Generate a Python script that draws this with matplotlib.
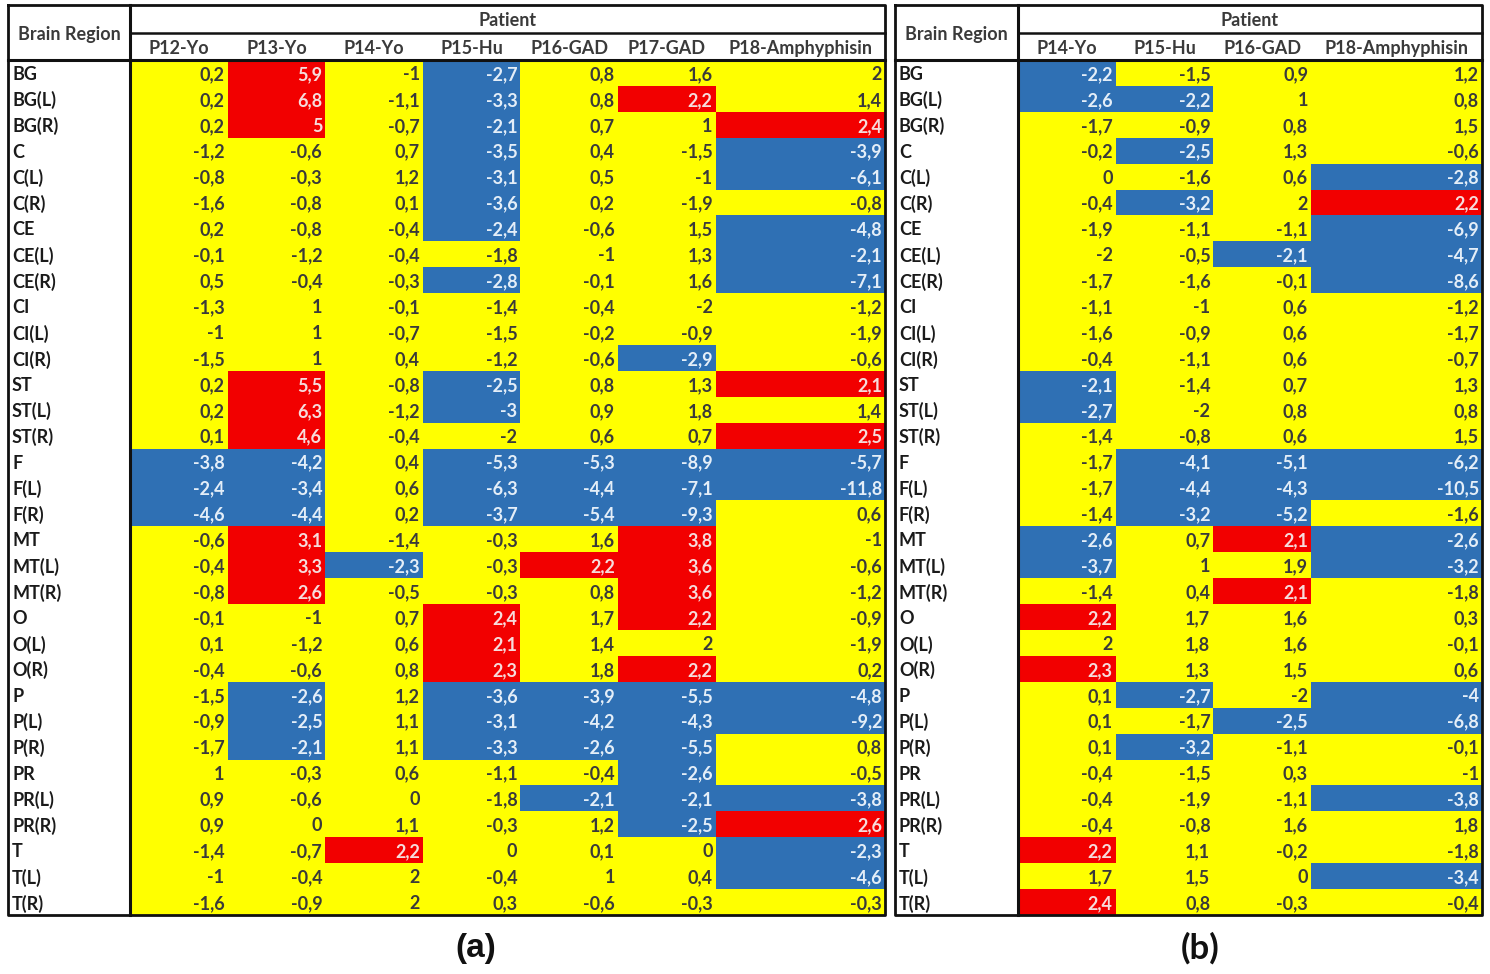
import matplotlib
matplotlib.use("Agg")
import matplotlib.pyplot as plt
from matplotlib.patches import Rectangle

# ---- data -------------------------------------------------------------
regions = ["BG", "BG(L)", "BG(R)", "C", "C(L)", "C(R)", "CE", "CE(L)", "CE(R)",
           "CI", "CI(L)", "CI(R)", "ST", "ST(L)", "ST(R)", "F", "F(L)", "F(R)",
           "MT", "MT(L)", "MT(R)", "O", "O(L)", "O(R)", "P", "P(L)", "P(R)",
           "PR", "PR(L)", "PR(R)", "T", "T(L)", "T(R)"]

patients_a = ["P12-Yo", "P13-Yo", "P14-Yo", "P15-Hu", "P16-GAD", "P17-GAD",
              "P18-Amphyphisin"]
patients_b = ["P14-Yo", "P15-Hu", "P16-GAD", "P18-Amphyphisin"]

# panel (a)
a_p12_yo = [0.2, 0.2, 0.2, -1.2, -0.8, -1.6, 0.2, -0.1, 0.5, -1.3, -1, -1.5,
            0.2, 0.2, 0.1, -3.8, -2.4, -4.6, -0.6, -0.4, -0.8, -0.1, 0.1, -0.4,
            -1.5, -0.9, -1.7, 1, 0.9, 0.9, -1.4, -1, -1.6]
a_p13_yo = [5.9, 6.8, 5, -0.6, -0.3, -0.8, -0.8, -1.2, -0.4, 1, 1, 1,
            5.5, 6.3, 4.6, -4.2, -3.4, -4.4, 3.1, 3.3, 2.6, -1, -1.2, -0.6,
            -2.6, -2.5, -2.1, -0.3, -0.6, 0, -0.7, -0.4, -0.9]
a_p14_yo = [-1, -1.1, -0.7, 0.7, 1.2, 0.1, -0.4, -0.4, -0.3, -0.1, -0.7, 0.4,
            -0.8, -1.2, -0.4, 0.4, 0.6, 0.2, -1.4, -2.3, -0.5, 0.7, 0.6, 0.8,
            1.2, 1.1, 1.1, 0.6, 0, 1.1, 2.2, 2, 2]
a_p15_hu = [-2.7, -3.3, -2.1, -3.5, -3.1, -3.6, -2.4, -1.8, -2.8, -1.4, -1.5, -1.2,
            -2.5, -3, -2, -5.3, -6.3, -3.7, -0.3, -0.3, -0.3, 2.4, 2.1, 2.3,
            -3.6, -3.1, -3.3, -1.1, -1.8, -0.3, 0, -0.4, 0.3]
a_p16_gad = [0.8, 0.8, 0.7, 0.4, 0.5, 0.2, -0.6, -1, -0.1, -0.4, -0.2, -0.6,
             0.8, 0.9, 0.6, -5.3, -4.4, -5.4, 1.6, 2.2, 0.8, 1.7, 1.4, 1.8,
             -3.9, -4.2, -2.6, -0.4, -2.1, 1.2, 0.1, 1, -0.6]
a_p17_gad = [1.6, 2.2, 1, -1.5, -1, -1.9, 1.5, 1.3, 1.6, -2, -0.9, -2.9,
             1.3, 1.8, 0.7, -8.9, -7.1, -9.3, 3.8, 3.6, 3.6, 2.2, 2, 2.2,
             -5.5, -4.3, -5.5, -2.6, -2.1, -2.5, 0, 0.4, -0.3]
a_p18_amph = [2, 1.4, 2.4, -3.9, -6.1, -0.8, -4.8, -2.1, -7.1, -1.2, -1.9, -0.6,
              2.1, 1.4, 2.5, -5.7, -11.8, 0.6, -1, -0.6, -1.2, -0.9, -1.9, 0.2,
              -4.8, -9.2, 0.8, -0.5, -3.8, 2.6, -2.3, -4.6, -0.3]

# panel (b)
b_p14_yo = [-2.2, -2.6, -1.7, -0.2, 0, -0.4, -1.9, -2, -1.7, -1.1, -1.6, -0.4,
            -2.1, -2.7, -1.4, -1.7, -1.7, -1.4, -2.6, -3.7, -1.4, 2.2, 2, 2.3,
            0.1, 0.1, 0.1, -0.4, -0.4, -0.4, 2.2, 1.7, 2.4]
b_p15_hu = [-1.5, -2.2, -0.9, -2.5, -1.6, -3.2, -1.1, -0.5, -1.6, -1, -0.9, -1.1,
            -1.4, -2, -0.8, -4.1, -4.4, -3.2, 0.7, 1, 0.4, 1.7, 1.8, 1.3,
            -2.7, -1.7, -3.2, -1.5, -1.9, -0.8, 1.1, 1.5, 0.8]
b_p16_gad = [0.9, 1, 0.8, 1.3, 0.6, 2, -1.1, -2.1, -0.1, 0.6, 0.6, 0.6,
             0.7, 0.8, 0.6, -5.1, -4.3, -5.2, 2.1, 1.9, 2.1, 1.6, 1.6, 1.5,
             -2, -2.5, -1.1, 0.3, -1.1, 1.6, -0.2, 0, -0.3]
b_p18_amph = [1.2, 0.8, 1.5, -0.6, -2.8, 2.2, -6.9, -4.7, -8.6, -1.2, -1.7, -0.7,
              1.3, 0.8, 1.5, -6.2, -10.5, -1.6, -2.6, -3.2, -1.8, 0.3, -0.1, 0.6,
              -4, -6.8, -0.1, -1, -3.8, 1.8, -1.8, -3.4, -0.4]

columns_a = [a_p12_yo, a_p13_yo, a_p14_yo, a_p15_hu, a_p16_gad, a_p17_gad, a_p18_amph]
columns_b = [b_p14_yo, b_p15_hu, b_p16_gad, b_p18_amph]

THRESHOLD = 2.0

# ---- style ------------------------------------------------------------
YELLOW = "#FFFF00"
RED = "#F20000"
BLUE = "#2F70B4"
DARK = "#3A3A3A"
LIGHT_ON_RED = "#F6DCDC"
LIGHT_ON_BLUE = "#E4EEF8"
FONT = "Lato"
FS = 13

W, H = 1490, 974
fig = plt.figure(figsize=(W / 100, H / 100), dpi=100)
ax = fig.add_axes([0, 0, 1, 1])
ax.set_xlim(0, W)
ax.set_ylim(H, 0)
ax.axis("off")

TOP, MID, HEAD, BOTTOM = 5, 33, 60, 915
ROW_H = (BOTTOM - HEAD) / len(regions)


def fmt(v):
    s = ("%.1f" % v).rstrip("0").rstrip(".")
    if s == "-0":
        s = "0"
    return s.replace(".", ",")


def draw_panel(x0, xlab, col_w, xright, names, cols):
    n = len(cols)
    edges = [xlab + i * col_w for i in range(n)] + [xright]
    # cells
    for j, vals in enumerate(cols):
        for i, v in enumerate(vals):
            y = HEAD + i * ROW_H
            if v > THRESHOLD:
                fc, tc = RED, LIGHT_ON_RED
            elif v < -THRESHOLD:
                fc, tc = BLUE, LIGHT_ON_BLUE
            else:
                fc, tc = YELLOW, DARK
            ax.add_patch(Rectangle((edges[j], y), edges[j + 1] - edges[j], ROW_H,
                                   facecolor=fc, edgecolor="none", zorder=1))
            ax.text(edges[j + 1] - 3, y + ROW_H / 2 + 1.5, fmt(v), ha="right",
                    va="center", fontsize=FS, fontweight="bold", color=tc,
                    family=FONT, zorder=3)
    # row labels
    for i, r in enumerate(regions):
        ax.text(x0 + 4, HEAD + (i + 0.5) * ROW_H + 1.5, r, ha="left", va="center",
                fontsize=FS, fontweight="bold", color="#1a1a1a", family=FONT,
                zorder=3)
    # headers
    ax.text((x0 + xlab) / 2, (TOP + HEAD) / 2 + 2, "Brain Region", ha="center",
            va="center", fontsize=FS, fontweight="bold", color=DARK, family=FONT)
    ax.text((xlab + xright) / 2, (TOP + MID) / 2 + 1.5, "Patient", ha="center",
            va="center", fontsize=FS, fontweight="bold", color=DARK, family=FONT)
    for j, name in enumerate(names):
        ax.text((edges[j] + edges[j + 1]) / 2, (MID + HEAD) / 2 + 2, name,
                ha="center", va="center", fontsize=FS, fontweight="bold",
                color=DARK, family=FONT)
    # rules
    lk = dict(color="#111111", zorder=4, solid_capstyle="projecting")
    ax.plot([x0, xright, xright, x0, x0], [TOP, TOP, BOTTOM, BOTTOM, TOP], lw=2.0, **lk)
    ax.plot([xlab, xlab], [TOP, BOTTOM], lw=2.2, **lk)
    ax.plot([x0, xright], [HEAD, HEAD], lw=2.2, **lk)
    ax.plot([xlab, xright], [MID, MID], lw=1.8, **lk)


draw_panel(8, 130, 97.6, 885, patients_a, columns_a)
draw_panel(895, 1018, 97.7, 1482, patients_b, columns_b)

ax.text(476, 948, "(a)", ha="center", va="center", fontsize=24,
        fontweight="bold", family="Liberation Sans", color="#111111")
ax.text(1200, 948, "(b)", ha="center", va="center", fontsize=25,
        fontweight="bold", family=FONT, color="#111111")

fig.savefig("out.png", dpi=100, facecolor="white")
